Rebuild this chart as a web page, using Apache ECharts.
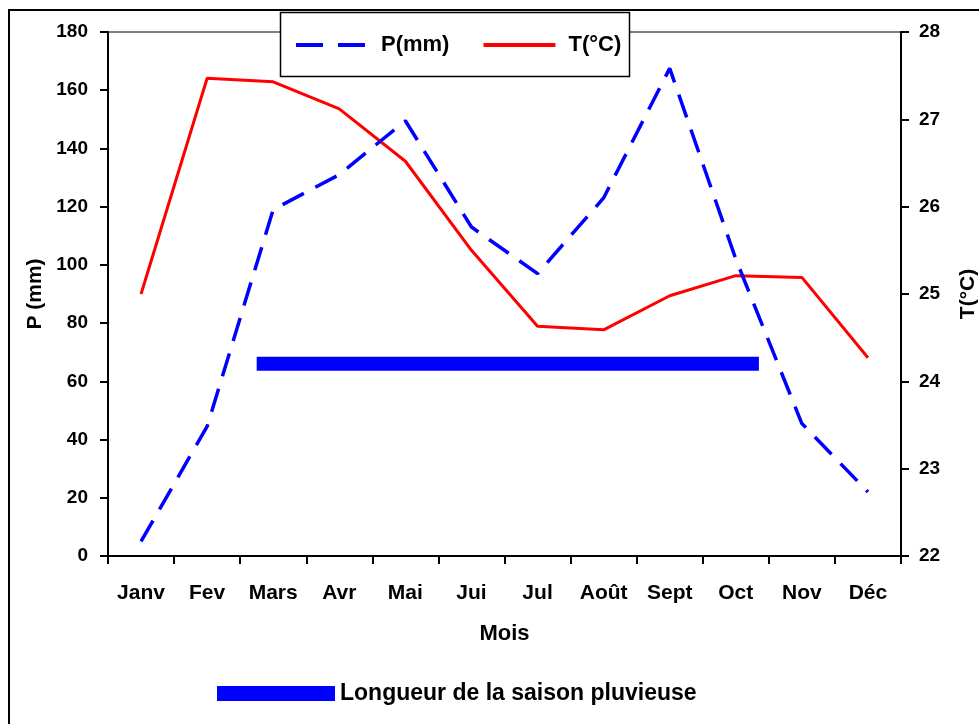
<!DOCTYPE html>
<html>
<head>
<meta charset="utf-8">
<script src="https://cdn.jsdelivr.net/npm/echarts@6/dist/echarts.min.js"></script>
<style>
  html, body { margin: 0; padding: 0; background: #fff; }
  #chart { width: 979px; height: 724px; }
</style>
</head>
<body>
<div id="chart"></div>
<script>
// mois
const mois = ['Janv', 'Fev', 'Mars', 'Avr', 'Mai', 'Jui', 'Jul', 'Août', 'Sept', 'Oct', 'Nov', 'Déc'];
// précipitations (mm)
const pluie = [5, 44.5, 119, 131, 149.5, 113, 97, 123, 167.5, 102, 45.5, 22];
// températures (°C)
const temp = [25.0, 27.47, 27.43, 27.12, 26.52, 25.5, 24.63, 24.59, 24.98, 25.21, 25.19, 24.27];
// saison pluvieuse : début / fin (position en mois) et hauteur (mm)
const saisonDebut = 2.75;
const saisonFin = 10.35;
const saisonNiveau = 66;

const font = 'Liberation Sans, Arial, sans-serif';
const chart = echarts.init(document.getElementById('chart'));

const option = {
  backgroundColor: '#fff',
  animation: false,
  textStyle: { fontFamily: font, color: '#000', fontWeight: 'bold' },
  grid: {
    left: 108, right: 78, top: 32, bottom: 168,
    outerBoundsMode: 'none',
    containLabel: false,
    show: true, borderColor: '#000', borderWidth: 1
  },
  // cadre extérieur + cadre de la légende
  graphic: [
    {
      type: 'rect', z: -10,
      shape: { x: 9, y: 10, width: 1000, height: 800 },
      style: { fill: null, stroke: '#000', lineWidth: 2 }
    },
    {
      type: 'rect', z: 50,
      shape: { x: 280.5, y: 12.5, width: 349, height: 64 },
      style: { fill: '#fff', stroke: '#000', lineWidth: 1.5 }
    }
  ],
  legend: [
    {
      data: [
        { name: 'P(mm)', lineStyle: { type: [27, 15], width: 4 } },
        { name: 'T(°C)', lineStyle: { width: 4 } }
      ],
      left: 280, top: 12,
      z: 60,
      padding: [22, 10, 22, 14],
      itemWidth: 72, itemHeight: 20, itemGap: 32,
      itemStyle: { opacity: 0 },
      textStyle: { fontFamily: font, fontWeight: 'bold', fontSize: 22, color: '#000', padding: [0, 0, 0, 8] }
    },
    {
      data: ['Longueur de la saison pluvieuse'],
      left: 212, top: 677,
      icon: 'rect',
      itemWidth: 118, itemHeight: 15,
      textStyle: { fontFamily: font, fontWeight: 'bold', fontSize: 23, color: '#000' }
    }
  ],
  xAxis: [
    {
      type: 'category',
      data: mois,
      name: 'Mois',
      nameLocation: 'middle',
      nameGap: 67,
      nameTextStyle: { fontFamily: font, fontWeight: 'bold', fontSize: 22, color: '#000' },
      axisLine: { lineStyle: { color: '#000', width: 2 } },
      axisTick: { show: true, length: 8, lineStyle: { color: '#000', width: 2 } },
      axisLabel: { fontFamily: font, fontWeight: 'bold', fontSize: 21, color: '#000', margin: 27, interval: 0 }
    },
    {
      type: 'value',
      min: 0.5, max: 12.5,
      show: false
    }
  ],
  yAxis: [
    {
      type: 'value',
      min: 0, max: 180, interval: 20,
      position: 'left',
      name: 'P (mm)',
      nameLocation: 'middle',
      nameRotate: 90,
      nameGap: 62,
      nameTextStyle: { fontFamily: font, fontWeight: 'bold', fontSize: 21, color: '#000' },
      axisLine: { show: true, lineStyle: { color: '#000', width: 2 } },
      axisTick: { show: true, length: 8, lineStyle: { color: '#000', width: 2 } },
      axisLabel: { fontFamily: font, fontWeight: 'bold', fontSize: 19, color: '#000', margin: 20 },
      splitLine: { show: false }
    },
    {
      type: 'value',
      min: 22, max: 28, interval: 1,
      position: 'right',
      name: 'T(°C)',
      nameLocation: 'middle',
      nameRotate: 90,
      nameGap: 57,
      nameTextStyle: { fontFamily: font, fontWeight: 'bold', fontSize: 21, color: '#000' },
      axisLine: { show: true, lineStyle: { color: '#000', width: 2 } },
      axisTick: { show: true, length: 8, lineStyle: { color: '#000', width: 2 } },
      axisLabel: { fontFamily: font, fontWeight: 'bold', fontSize: 19, color: '#000', margin: 18 },
      splitLine: { show: false }
    }
  ],
  series: [
    {
      name: 'P(mm)',
      type: 'line',
      data: pluie,
      yAxisIndex: 0,
      symbol: 'none',
      color: '#0000ff',
      lineStyle: { color: '#0000ff', width: 3.5, type: [24, 13] },
      z: 3
    },
    {
      name: 'T(°C)',
      type: 'line',
      data: temp,
      yAxisIndex: 1,
      symbol: 'none',
      color: '#ff0000',
      lineStyle: { color: '#ff0000', width: 3 },
      z: 2
    },
    {
      name: 'Longueur de la saison pluvieuse',
      type: 'line',
      xAxisIndex: 1,
      yAxisIndex: 0,
      data: [[saisonDebut, saisonNiveau], [saisonFin, saisonNiveau]],
      symbol: 'none',
      color: '#0000ff',
      itemStyle: { color: '#0000ff' },
      lineStyle: { color: '#0000ff', width: 14, cap: 'butt' },
      z: 1
    }
  ]
};

chart.setOption(option);
</script>
</body>
</html>
